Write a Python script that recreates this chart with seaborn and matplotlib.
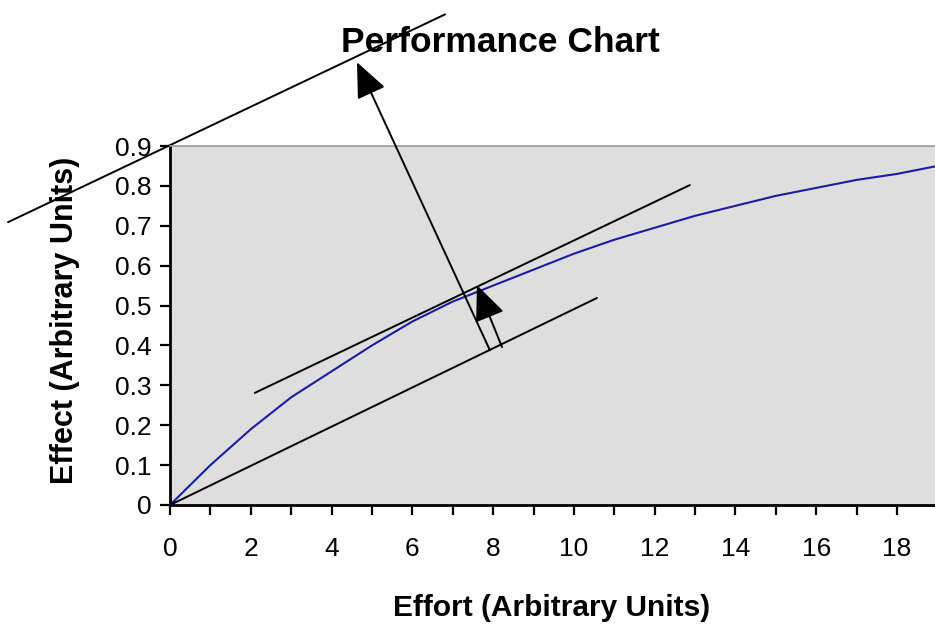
import numpy as np
import pandas as pd
import matplotlib
matplotlib.use("Agg")
from matplotlib import pyplot as plt
import seaborn as sns

# effort / effect curve
effort = [0, 1, 2, 3, 4, 5, 6, 7, 8, 9, 10, 11, 12, 13, 14, 15, 16, 17, 18, 19]
effect = [0, 0.10, 0.19, 0.27, 0.335, 0.40, 0.46, 0.51, 0.55, 0.59, 0.63,
          0.665, 0.695, 0.725, 0.75, 0.775, 0.795, 0.815, 0.83, 0.85]

# straight construction lines (x pairs, y pairs)
lower_x, lower_y = [0, 10.57], [0, 0.519]
tangent_x, tangent_y = [2.1, 12.87], [0.281, 0.802]
top_x, top_y = [-4.01, 6.81], [0.709, 1.23]

# arrows: (tail, head)
long_arrow = ((7.92, 0.388), (4.63, 1.11))
short_arrow = ((8.22, 0.396), (7.6, 0.551))

sns.set_style("ticks")
plt.rcParams["font.family"] = ["Liberation Sans", "DejaVu Sans"]
plt.rcParams["text.color"] = "black"
plt.rcParams["axes.labelcolor"] = "black"
plt.rcParams["xtick.color"] = "black"
plt.rcParams["ytick.color"] = "black"

fig = plt.figure(figsize=(9.35, 6.24), dpi=100)
ax = fig.add_axes([170 / 935, 119 / 624, 765 / 935, 359 / 624])
ax.set_facecolor("#dedede")

df = pd.DataFrame({"Effort": effort, "Effect": effect})
sns.lineplot(data=df, x="Effort", y="Effect", color="#1c1ca0", lw=1.5, ax=ax)

ax.plot(lower_x, lower_y, color="black", lw=1.4, clip_on=False)
ax.plot(tangent_x, tangent_y, color="black", lw=1.4, clip_on=False)
ax.plot(top_x, top_y, color="black", lw=1.4, clip_on=False)

for tail, head in (long_arrow, short_arrow):
    ax.annotate("", xy=head, xytext=tail, annotation_clip=False,
                arrowprops=dict(arrowstyle="-|>,head_length=2.2,head_width=0.95",
                                color="black", lw=1.4, shrinkA=0, shrinkB=0))

ax.set_xlim(0, 18.94)
ax.set_ylim(0, 0.9)
ax.set_xticks(np.arange(0, 19, 2))
ax.set_xticks(np.arange(0, 19, 1), minor=True)
ax.set_yticks(np.arange(0, 0.91, 0.1))
ax.set_yticklabels(["0"] + [f"{v:.1f}" for v in np.arange(0.1, 0.91, 0.1)])

ax.tick_params(axis="both", which="both", direction="out", length=7, width=1.6,
               color="black", labelsize=19, labelcolor="black")
ax.tick_params(axis="x", which="major", pad=16)
ax.tick_params(axis="y", pad=6)

for side in ("left", "bottom"):
    ax.spines[side].set_color("black")
    ax.spines[side].set_linewidth(2)
ax.spines["top"].set_visible(True)
ax.spines["top"].set_color("#999999")
ax.spines["top"].set_linewidth(1.2)
ax.spines["right"].set_visible(False)

ax.set_xlabel("Effort (Arbitrary Units)", fontsize=21.5, fontweight="bold", va="center")
ax.set_ylabel("Effect (Arbitrary Units)", fontsize=22, fontweight="bold", va="center")
ax.xaxis.set_label_coords(552 / 935, 1 - 608 / 624, transform=fig.transFigure)
ax.yaxis.set_label_coords(65 / 935, 1 - 320 / 624, transform=fig.transFigure)
fig.text(500 / 935, 1 - 43 / 624, "Performance Chart", fontsize=25.5, fontweight="bold",
         ha="center", va="center")

fig.savefig("out.png", dpi=100)
